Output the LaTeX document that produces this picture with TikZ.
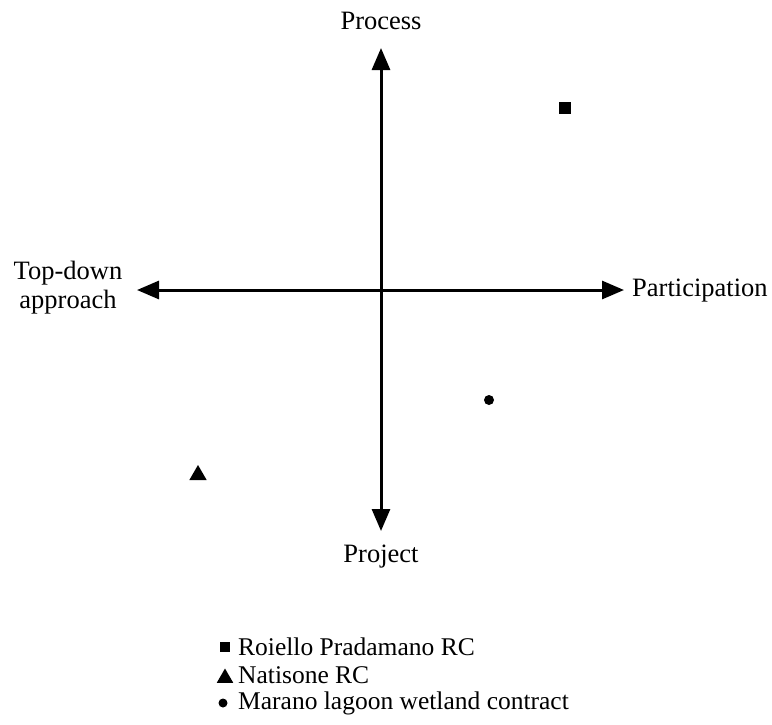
\documentclass[tikz,border=0pt]{standalone}
\usepackage{fontspec}
\setmainfont{Liberation Serif}
\usepackage{tikz}
\usetikzlibrary{shapes.geometric, arrows.meta}

\begin{document}
\begin{tikzpicture}[x=1pt, y=-1pt,
    axis/.style={line width=3pt, {Triangle[length=22pt,width=18pt]}-{Triangle[length=22pt,width=18pt]}},
    lbl/.style={font=\fontsize{26.5}{29}\selectfont},
    leg/.style={font=\fontsize{25.5}{28}\selectfont, anchor=west, inner sep=0pt},
    sqmk/.style={fill=black, minimum size=12pt, inner sep=0pt},
    trimk/.style={fill=black, regular polygon, regular polygon sides=3, minimum size=20pt, inner sep=0pt},
    dotmk/.style={fill=black, circle, minimum size=10pt, inner sep=0pt}]
    \useasboundingbox (0,0) rectangle (772,724);
    \coordinate (top) at (381,48);
    \coordinate (bot) at (381,531);
    \coordinate (lft) at (137,290);
    \coordinate (rgt) at (624,290);
    \draw[axis] (top) -- (bot);
    \draw[axis] (lft) -- (rgt);
    \node[lbl] (process) at (381,21) {Process};
    \node[lbl] (project) at (381,557) {Project};
    \node[lbl, align=center] (topdown) at (68,288) {Top-down\\approach};
    \node[lbl, anchor=west, inner sep=0pt] (particip) at (632,291) {Participation};
    \node[sqmk] (roiello) at (565,108) {};
    \node[dotmk] (marano) at (489,400) {};
    \node[trimk] (natisone) at (198,475) {};
    \node[sqmk, minimum size=10pt] (legsq) at (225,647) {};
    \node[trimk, minimum size=19pt] (legtri) at (225,678) {};
    \node[dotmk, minimum size=9pt] (legdot) at (223,703) {};
    \node[leg] (legroiello) at (238,647) {Roiello Pradamano RC};
    \node[leg] (legnatisone) at (238,675) {Natisone RC};
    \node[leg] (legmarano) at (238,703) {Marano lagoon wetland contract};
\end{tikzpicture}
\end{document}
